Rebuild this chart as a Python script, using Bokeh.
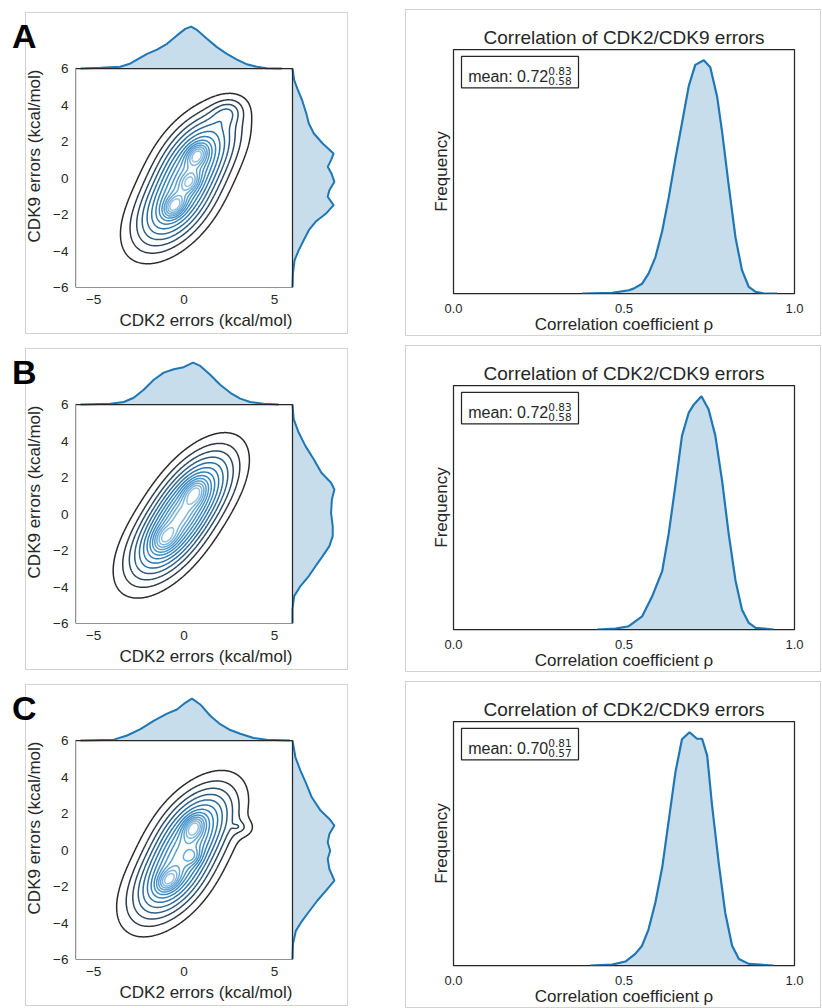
import numpy as np
from bokeh.plotting import figure
from bokeh.models import Range1d, FixedTicker, BoxAnnotation, Label, Spacer, LinearAxis
from bokeh.layouts import row, column
from bokeh.embed import file_html
from bokeh.resources import INLINE

# ---------------- data ----------------
PANELS = ["A", "B", "C"]

# top marginal KDE of CDK2 errors (x, relative height)
A_top_x = [-5.72, -4.62, -3.52, -2.96, -2.6, -2.04, -1.49, -0.94, -0.39, 0.07, 0.39, 0.72, 1.27, 1.82, 2.37, 2.93, 3.48, 4.03, 4.58, 5.41]
A_top_h = [0, 0.016, 0.04, 0.12, 0.21, 0.35, 0.45, 0.59, 0.79, 0.945, 1.0, 0.92, 0.71, 0.51, 0.35, 0.21, 0.10, 0.04, 0.008, 0]
B_top_x = [-5.72, -4.07, -3.33, -2.78, -2.23, -1.67, -1.12, -0.57, -0.02, 0.5, 0.9, 1.45, 2.0, 2.56, 3.11, 3.66, 4.4, 5.23]
B_top_h = [0, 0.016, 0.06, 0.16, 0.35, 0.59, 0.76, 0.84, 0.89, 1.0, 0.92, 0.71, 0.47, 0.28, 0.14, 0.06, 0.016, 0]
C_top_x = [-5.72, -3.88, -3.15, -2.41, -1.68, -0.94, -0.39, 0.07, 0.44, 0.9, 1.45, 2.0, 2.56, 3.11, 3.85, 4.58, 5.87]
C_top_h = [0, 0.02, 0.12, 0.27, 0.47, 0.64, 0.74, 0.9, 1.0, 0.86, 0.59, 0.39, 0.25, 0.16, 0.06, 0.02, 0]

# right marginal KDE of CDK9 errors (y, relative height)
A_right_y = [6.0, 5.36, 4.81, 4.26, 3.53, 2.99, 2.44, 1.89, 1.34, 0.98, 0.61, 0.25, -0.21, -0.67, -1.03, -1.49, -1.95, -2.4, -2.86, -3.4, -3.95, -4.5, -5.23, -6.0]
A_right_h = [0, 0.04, 0.13, 0.23, 0.33, 0.39, 0.51, 0.72, 0.98, 0.92, 0.84, 0.93, 1.0, 0.88, 0.84, 0.98, 0.80, 0.55, 0.39, 0.27, 0.15, 0.05, 0.01, 0]
B_right_y = [6.0, 5.18, 4.45, 3.72, 2.99, 2.26, 1.71, 1.34, 0.79, 0.06, -0.67, -1.21, -1.76, -2.31, -2.86, -3.4, -3.95, -4.5, -5.23, -6.0]
B_right_h = [0, 0.03, 0.15, 0.31, 0.51, 0.69, 0.92, 1.0, 0.94, 0.92, 0.96, 0.96, 0.88, 0.72, 0.55, 0.39, 0.19, 0.04, 0.0, 0]
C_right_y = [6.0, 5.08, 4.35, 3.62, 2.89, 2.16, 1.7, 1.34, 0.88, 0.42, -0.04, -0.49, -1.04, -1.68, -2.23, -2.78, -3.33, -3.88, -4.43, -5.16, -6.0]
C_right_h = [0, 0.07, 0.19, 0.33, 0.46, 0.67, 0.88, 1.0, 0.88, 0.84, 0.9, 0.84, 0.88, 1.0, 0.8, 0.59, 0.41, 0.23, 0.08, 0.01, 0]

# 2D density (joint KDE) approximated by Gaussian components: centre, spread, correlation, weight
# (two elongated ridge components + local modes + small outer bumps)
A_cx = [0.75, -0.55, 0.72, 0.31, -0.53, 2.4]
A_cy = [1.3, -1.55, 1.25, -0.21, -1.53, 3.6]
A_sx = [1.45, 1.45, 0.37, 0.35, 0.38, 0.6]
A_sy = [1.55, 1.55, 0.40, 0.38, 0.40, 0.5]
A_r = [0.5, 0.5, 0.3, 0.3, 0.35, 0.2]
A_w = [1.0, 1.0, 0.044, 0.03, 0.046, 0.04]

B_cx = [0.65, -0.95, 0.59, -1.03, -0.2]
B_cy = [1.2, -1.35, 1.16, -1.31, -0.1]
B_sx = [1.45, 1.45, 0.42, 0.45, 0.4]
B_sy = [1.6, 1.6, 0.48, 0.48, 0.45]
B_r = [0.55, 0.55, 0.35, 0.35, 0.4]
B_w = [1.0, 1.0, 0.05, 0.05, 0.012]

C_cx = [0.6, -0.75, 0.53, 0.48, -0.85, 3.3, 2.9]
C_cy = [1.2, -1.6, 1.24, -0.37, -1.65, 1.2, 1.28]
C_sx = [1.45, 1.45, 0.37, 0.3, 0.4, 0.45, 0.15]
C_sy = [1.55, 1.55, 0.42, 0.3, 0.4, 0.35, 0.1]
C_r = [0.5, 0.5, 0.3, 0.2, 0.35, 0.0, 0.0]
C_w = [1.0, 1.0, 0.046, 0.012, 0.044, 0.011, 0.0008]

# contour levels as fractions of the density maximum
LEVEL_FRAC = [0.07, 0.14, 0.21, 0.28, 0.35, 0.42, 0.49, 0.56, 0.63, 0.70, 0.77, 0.84, 0.91]
LEVEL_COLORS = ["#2b2b2b", "#2f3a45", "#2d4c66", "#2b5d85", "#2a6a9c", "#2b75ae", "#3080bb",
                "#3a89c2", "#4793c8", "#579ecf", "#69a9d5", "#7db5dc", "#92c2e3"]

# correlation coefficient distributions (rho, relative frequency)
A_rho = [0.377, 0.465, 0.514, 0.528, 0.553, 0.572, 0.592, 0.612, 0.631, 0.651, 0.670, 0.690, 0.709, 0.734, 0.753, 0.773, 0.788, 0.807, 0.827, 0.846, 0.866, 0.886, 0.905, 0.949]
A_freq = [0, 0.003, 0.014, 0.021, 0.042, 0.085, 0.155, 0.268, 0.41, 0.58, 0.73, 0.89, 0.98, 1.0, 0.97, 0.845, 0.69, 0.465, 0.24, 0.10, 0.028, 0.007, 0.002, 0]
B_rho = [0.421, 0.475, 0.514, 0.553, 0.582, 0.612, 0.631, 0.651, 0.670, 0.690, 0.705, 0.727, 0.748, 0.768, 0.788, 0.807, 0.827, 0.846, 0.866, 0.886, 0.939]
B_freq = [0, 0.004, 0.014, 0.056, 0.14, 0.25, 0.41, 0.62, 0.83, 0.93, 0.965, 1.0, 0.944, 0.83, 0.634, 0.41, 0.21, 0.085, 0.028, 0.007, 0]
C_rho = [0.401, 0.465, 0.504, 0.533, 0.553, 0.572, 0.592, 0.612, 0.631, 0.651, 0.670, 0.692, 0.714, 0.729, 0.744, 0.758, 0.778, 0.797, 0.817, 0.837, 0.866, 0.939]
C_freq = [0, 0.004, 0.017, 0.05, 0.085, 0.155, 0.27, 0.42, 0.62, 0.83, 0.97, 1.0, 0.972, 0.972, 0.90, 0.69, 0.437, 0.225, 0.085, 0.028, 0.007, 0]

MEAN = ["0.72", "0.72", "0.70"]
UPPER = ["0.83", "0.83", "0.81"]
LOWER = ["0.58", "0.58", "0.57"]

XTICKS = [-5, 0, 5]
YTICKS = [-6, -4, -2, 0, 2, 4, 6]
RHO_TICKS = [0.0, 0.5, 1.0]
LETTER_Y = 7.8

TITLE = "Correlation of CDK2/CDK9 errors"
XLABEL = "CDK2 errors (kcal/mol)"
YLABEL = "CDK9 errors (kcal/mol)"
RLABEL = "Correlation coefficient \u03c1"
FLABEL = "Frequency"

# ---------------- styling / layout constants ----------------
FONT = "Liberation Sans"
TXT = "#262626"
BLUE = "#1f77b4"
BOXGRAY = "#d2d2d2"
ROW_H = 336
LEFT_W = 350
GAP_W = 50
RIGHT_W = 422
MAIN_W, MAIN_H, MARG = 217, 219, 44
L_LEFT, L_TOP, L_RIGHT, L_BOTTOM = 75, 24, 14, 49
R_LEFT, R_TOP, R_FW, R_FH = 53, 49, 341, 248


def box_css(x, y, w, h, color):
    grad = "linear-gradient(%s, %s)" % (color, color)
    return {
        "background-image": ", ".join([grad] * 4),
        "background-position": "%dpx %dpx, %dpx %dpx, %dpx %dpx, %dpx %dpx" % (x, y, x, y + h, x, y, x + w, y),
        "background-size": "%dpx 1px, %dpx 1px, 1px %dpx, 1px %dpx" % (w, w + 1, h, h + 1),
        "background-repeat": "no-repeat",
    }


def mixture(X, Y, cx, cy, sx, sy, r, w):
    Z = np.zeros_like(X)
    for i in range(len(cx)):
        dx = (X - cx[i]) / sx[i]
        dy = (Y - cy[i]) / sy[i]
        q = (dx * dx - 2 * r[i] * dx * dy + dy * dy) / (1 - r[i] ** 2)
        Z += w[i] / (2 * np.pi * sx[i] * sy[i] * np.sqrt(1 - r[i] ** 2)) * np.exp(-0.5 * q)
    return Z


def style_axes(p, tick_px):
    for ax in (p.xaxis, p.yaxis):
        ax.axis_line_color = None
        ax.major_tick_line_color = None
        ax.minor_tick_line_color = None
        ax.major_tick_out = 0
        ax.major_tick_in = 0
        ax.minor_tick_out = 0
        ax.minor_tick_in = 0
        ax.major_label_text_font = FONT
        ax.major_label_text_color = TXT
        ax.major_label_text_font_size = tick_px
        ax.axis_label_text_font = FONT
        ax.axis_label_text_color = TXT
        ax.axis_label_text_font_size = "17px"
        ax.axis_label_text_font_style = "normal"
    p.grid.visible = False


def joint_panel(letter, top_x, top_h, right_y, right_h, comps):
    pxx = MAIN_W / 12.0
    pxy = MAIN_H / 12.0
    p = figure(width=LEFT_W, height=ROW_H, output_backend="svg", toolbar_location=None, title=None,
               x_range=Range1d(-6, 6 + MARG / pxx), y_range=Range1d(-6, 6 + MARG / pxy),
               min_border_left=L_LEFT, min_border_top=L_TOP, min_border_right=L_RIGHT,
               min_border_bottom=L_BOTTOM,
               styles=box_css(25, 12, 322, 321, BOXGRAY))
    if p.title is not None:
        p.title.text_font_size = "0px"
        p.title.standoff = 0
    p.outline_line_color = None
    p.background_fill_color = "white"
    p.border_fill_color = None
    dt = max(top_h) * 1.05
    dr = max(right_h) * 1.05
    p.extra_y_ranges = {"top": Range1d(-MAIN_H / MARG * dt, dt)}
    p.extra_x_ranges = {"right": Range1d(-MAIN_W / MARG * dr, dr)}

    g = np.linspace(-6, 6, 241)
    X, Y = np.meshgrid(g, g)
    Z = mixture(X, Y, *comps)
    levels = [f * Z.max() for f in LEVEL_FRAC]
    p.contour(x=g, y=g, z=Z, levels=levels, line_color=LEVEL_COLORS, line_width=1.5)

    p.varea(x=top_x, y1=0, y2=top_h, fill_color=BLUE, fill_alpha=0.25, y_range_name="top")
    p.line(x=top_x, y=top_h, line_color=BLUE, line_width=2, y_range_name="top")
    p.harea(y=right_y, x1=0, x2=right_h, fill_color=BLUE, fill_alpha=0.25, x_range_name="right")
    p.line(x=right_h, y=right_y, line_color=BLUE, line_width=2, x_range_name="right")

    p.add_layout(BoxAnnotation(left=-6, right=6, bottom=-6, top=6, fill_alpha=0,
                               line_color=TXT, line_alpha=1, line_width=1.25))

    style_axes(p, "13.5px")
    p.xaxis.ticker = FixedTicker(ticks=XTICKS)
    p.yaxis.ticker = FixedTicker(ticks=YTICKS)
    p.xaxis.major_label_overrides = {t: str(t).replace("-", "\u2212") for t in XTICKS}
    p.yaxis.major_label_overrides = {t: str(t).replace("-", "\u2212") for t in YTICKS}
    p.xaxis.axis_label = XLABEL
    p.yaxis.axis_label = YLABEL
    p.xaxis.major_label_standoff = 7
    p.yaxis.major_label_standoff = 7
    p.xaxis.axis_label_standoff = 4
    p.yaxis.axis_label_standoff = 6

    # panel letter, carried by an extra left axis with one tick
    letter_axis = LinearAxis(ticker=FixedTicker(ticks=[LETTER_Y]),
                             major_label_overrides={LETTER_Y: letter},
                             axis_line_color=None, major_tick_line_color=None,
                             minor_tick_line_color=None, major_tick_out=0, major_tick_in=0,
                             minor_tick_out=0, minor_tick_in=0, major_label_standoff=-14,
                             major_label_text_font=FONT, major_label_text_font_size="34px",
                             major_label_text_font_style="bold", major_label_text_color="black")
    p.add_layout(letter_axis, "left")
    return p


def rho_panel(rho, freq, mean, up, lo):
    ymax = max(freq) * 1.046
    p = figure(width=RIGHT_W, height=ROW_H, output_backend="svg", toolbar_location=None,
               x_range=Range1d(0, 1), y_range=Range1d(0, ymax),
               min_border_left=R_LEFT, min_border_top=R_TOP,
               min_border_right=RIGHT_W - R_LEFT - R_FW,
               min_border_bottom=ROW_H - R_TOP - R_FH,
               styles=box_css(5, 9, 415, 326, BOXGRAY))
    p.title.text = TITLE
    p.title.align = "center"
    p.title.text_font = FONT
    p.title.text_font_size = "19px"
    p.title.text_font_style = "normal"
    p.title.text_color = TXT
    p.title.standoff = 3
    p.outline_line_color = TXT
    p.outline_line_width = 1.25
    p.background_fill_color = "white"
    p.border_fill_color = None

    p.varea(x=rho, y1=0, y2=freq, fill_color=BLUE, fill_alpha=0.25)
    p.line(x=rho, y=freq, line_color=BLUE, line_width=2.2)

    # legend box with mean and interval, offsets in pixels from the frame's top-left
    def fy(off):
        return ymax * (1 - off / R_FH)

    p.add_layout(BoxAnnotation(left=8 / R_FW, right=125 / R_FW, top=fy(7), bottom=fy(39),
                               fill_alpha=0, line_color=TXT, line_alpha=1, line_width=1.25))
    p.add_layout(Label(x=14.7 / R_FW, y=fy(27), text="mean: " + mean, text_font=FONT,
                       text_font_size="16px", text_color=TXT, text_baseline="alphabetic"))
    p.add_layout(Label(x=94.7 / R_FW, y=fy(21.7), text=up, text_font="DejaVu Sans",
                       text_font_size="10.5px", text_color=TXT, text_baseline="alphabetic"))
    p.add_layout(Label(x=94.7 / R_FW, y=fy(31.7), text=lo, text_font="DejaVu Sans",
                       text_font_size="10.5px", text_color=TXT, text_baseline="alphabetic"))

    style_axes(p, "13px")
    p.xaxis.ticker = FixedTicker(ticks=RHO_TICKS)
    p.xaxis.major_label_overrides = {0.0: "0.0", 0.5: "0.5", 1.0: "1.0"}
    p.yaxis.ticker = FixedTicker(ticks=[])
    p.xaxis.axis_label = RLABEL
    p.yaxis.axis_label = FLABEL
    p.xaxis.major_label_standoff = 10
    p.xaxis.axis_label_standoff = -1
    p.yaxis.major_label_standoff = 0
    p.yaxis.axis_label_standoff = 3
    return p


data = {
    "A": (A_top_x, A_top_h, A_right_y, A_right_h, (A_cx, A_cy, A_sx, A_sy, A_r, A_w), A_rho, A_freq),
    "B": (B_top_x, B_top_h, B_right_y, B_right_h, (B_cx, B_cy, B_sx, B_sy, B_r, B_w), B_rho, B_freq),
    "C": (C_top_x, C_top_h, C_right_y, C_right_h, (C_cx, C_cy, C_sx, C_sy, C_r, C_w), C_rho, C_freq),
}

lefts, rights = [], []
for i, k in enumerate(PANELS):
    tx, th, ry, rh, comps, rho, fr = data[k]
    lefts.append(joint_panel(k, tx, th, ry, rh, comps))
    rights.append(rho_panel(rho, fr, MEAN[i], UPPER[i], LOWER[i]))

layout = row(column(*lefts), Spacer(width=GAP_W, height=3 * ROW_H), column(*rights))
open("out.html", "w").write(file_html(layout, INLINE))
